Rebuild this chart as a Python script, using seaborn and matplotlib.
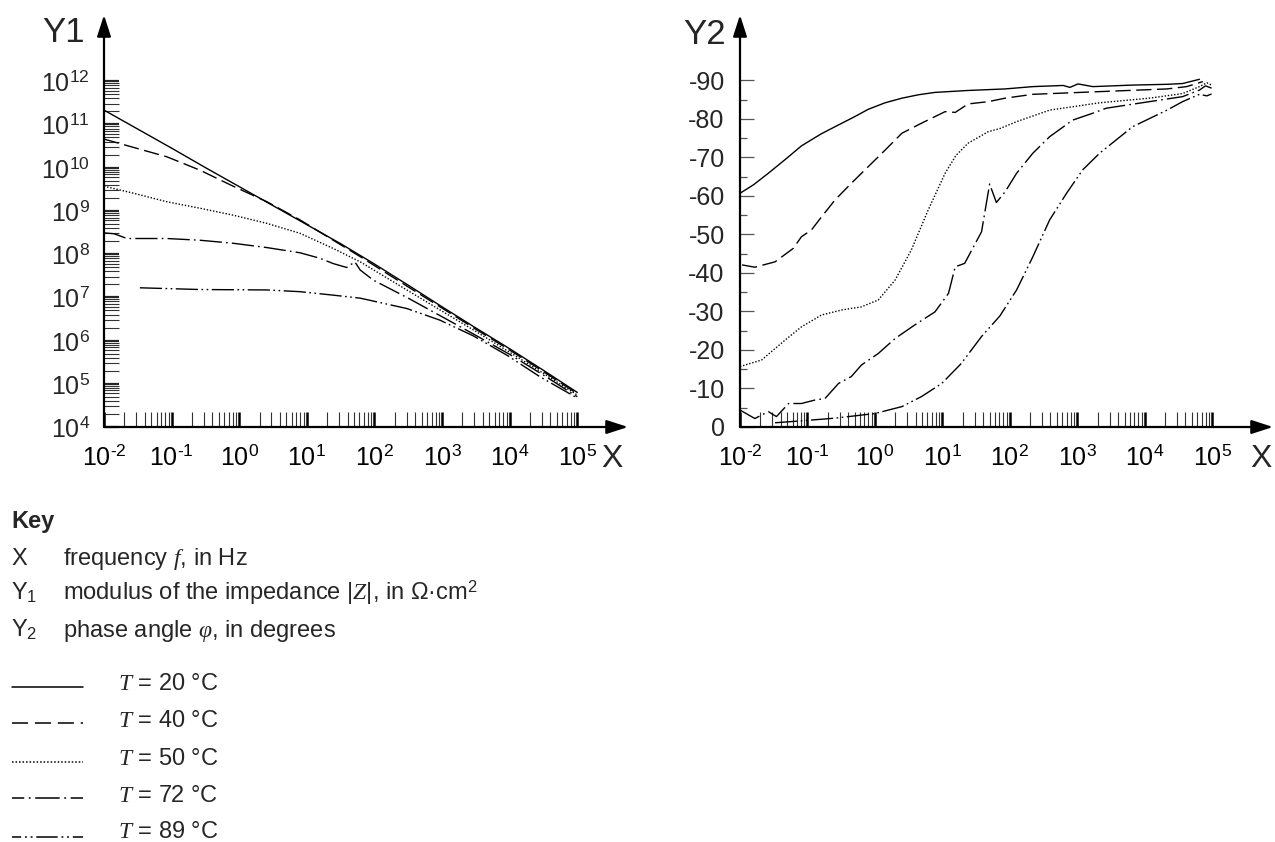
import numpy as np
import matplotlib.pyplot as plt
import seaborn as sns
from matplotlib.lines import Line2D
from matplotlib.ticker import FixedLocator, NullFormatter, FuncFormatter

sns.set_style('ticks')
plt.rcParams['font.family'] = ['Liberation Sans', 'DejaVu Sans']
plt.rcParams['mathtext.fontset'] = 'custom'
plt.rcParams['mathtext.rm'] = 'Liberation Sans'
plt.rcParams['mathtext.it'] = 'Liberation Serif:italic'
plt.rcParams['axes.unicode_minus'] = False

# values, stored as log10(f) and log10(|Z|) / phase in degrees
mod20_lf = [-2, -1.5, -1, -0.5, 0, 0.5, 1, 1.5, 2, 2.5, 3, 3.5, 4, 4.5, 5]
mod20_lz = [11.33, 10.89, 10.45, 10.0, 9.56, 9.12, 8.68, 8.24, 7.77, 7.28, 6.78, 6.29, 5.81, 5.31, 4.80]
mod40_lf = [-2, -1.57, -1.07, -0.58, -0.09, 0.41, 0.90, 1.39, 1.79, 2.5, 3, 3.5, 4, 4.5, 5]
mod40_lz = [10.66, 10.47, 10.25, 9.94, 9.57, 9.21, 8.79, 8.32, 7.94, 7.24, 6.75, 6.26, 5.78, 5.28, 4.77]
mod50_lf = [-2, -1.57, -1.07, -0.58, -0.09, 0.41, 0.90, 1.39, 1.79, 2.5, 3, 3.5, 4, 4.5, 5]
mod50_lz = [9.57, 9.41, 9.21, 9.06, 8.90, 8.71, 8.48, 8.13, 7.82, 7.15, 6.68, 6.21, 5.73, 5.24, 4.74]
mod72_lf = [-2, -1.85, -1.66, -1.07, -0.58, -0.09, 0.41, 0.90, 1.20, 1.39, 1.59, 1.71, 1.79,
            1.89, 1.98, 2.5, 3, 3.5, 4, 4.5, 5]
mod72_lz = [8.49, 8.47, 8.36, 8.36, 8.32, 8.25, 8.15, 8.03, 7.90, 7.78, 7.69, 7.82, 7.63,
            7.51, 7.40, 6.98, 6.55, 6.12, 5.68, 5.20, 4.70]
mod89_lf = [-1.47, -0.58, 0.41, 0.90, 1.39, 1.79, 2.48, 2.97, 3.46, 3.96, 4.45, 5]
mod89_lz = [7.22, 7.18, 7.17, 7.13, 7.05, 6.98, 6.74, 6.47, 6.11, 5.66, 5.16, 4.67]

ph20_lf = [-2, -1.8, -1.58, -1.3, -1.09, -0.8, -0.59, -0.3, -0.10, 0.15, 0.40, 0.65, 0.89, 1.38,
           1.93, 2.34, 2.79, 2.89, 3.01, 3.23, 3.82, 4.33, 4.56, 4.81]
ph20 = [-60.7, -62.9, -65.9, -69.9, -73.0, -76.1, -78.0, -80.6, -82.5, -84.2, -85.4, -86.3, -86.9, -87.4,
        -87.8, -88.4, -88.7, -88.2, -89.1, -88.4, -88.8, -89.0, -89.2, -90.3]
ph40_lf = [-1.97, -1.78, -1.48, -1.21, -1.09, -0.94, -0.79, -0.59, -0.35, -0.10, 0.15, 0.40,
           0.69, 1.04, 1.19, 1.38, 1.68, 1.93, 2.34, 3.33, 4.33, 4.62, 4.86]
ph40 = [-42.1, -41.5, -42.9, -46.4, -49.4, -51.2, -54.6, -59.0, -63.3, -67.6, -71.9, -76.3,
        -78.9, -81.9, -81.7, -83.9, -84.5, -85.4, -86.4, -87.1, -87.8, -88.4, -89.7]
ph50_lf = [-2, -1.68, -1.33, -1.09, -0.79, -0.49, -0.20, 0.05, 0.30, 0.54, 0.79, 1.04, 1.2, 1.38,
           1.68, 1.85, 2.10, 2.59, 3.33, 4.07, 4.56, 4.81, 4.92, 4.99]
ph50 = [-15.7, -17.4, -22.6, -26.0, -29.1, -30.4, -31.2, -33.0, -38.2, -46.0, -56.4, -65.9, -70.5, -73.7,
        -76.7, -77.5, -79.3, -82.3, -84.2, -85.4, -86.6, -88.4, -89.4, -88.8]
ph72_lf = [-2, -1.78, -1.58, -1.46, -1.28, -1.09, -0.89, -0.74, -0.54, -0.35, -0.20, 0.05, 0.30,
           0.59, 0.89, 1.09, 1.19, 1.33, 1.58, 1.70, 1.80, 1.93, 2.10, 2.34, 2.59, 2.93, 3.23,
           3.43, 4.07, 4.56, 4.81, 4.90, 4.99]
ph72 = [-4.4, -2.2, -4.0, -2.7, -6.1, -6.1, -7.0, -7.4, -11.3, -13.1, -16.1, -19.1, -23.0,
        -26.5, -29.9, -34.7, -41.6, -42.5, -50.7, -63.1, -58.3, -61.1, -65.9, -71.1, -75.4, -79.7, -81.5,
        -82.8, -84.5, -85.8, -87.5, -88.6, -88.0]
ph89_lf = [-1.48, -1.09, -0.59, 0.0, 0.40, 0.69, 0.99, 1.28, 1.58, 1.85, 2.10, 2.34, 2.59, 2.84,
           3.08, 3.33, 3.82, 4.33, 4.56, 4.81, 4.92, 4.99]
ph89 = [-1.1, -1.6, -2.3, -3.5, -5.3, -7.9, -11.3, -16.5, -23.5, -28.8, -35.6, -44.2, -53.8, -60.7,
        -66.8, -71.1, -78.0, -82.3, -84.5, -86.4, -86.0, -86.5]

temps = ['20', '40', '50', '72', '89']
styles = ['-', (0, (11, 4)), (0, (1, 1.3)), (0, (16, 3, 1.2, 3)), (0, (16, 2.5, 1.2, 2.5, 1.2, 2.5))]
key_styles = ['-', (0, (10.5, 4.5)), (0, (1, 1.3)), (8, (16, 3, 1.2, 3)), (8, (14, 2.5, 1.2, 2.5, 1.2, 2.5))]

mod_series = [(mod20_lf, mod20_lz), (mod40_lf, mod40_lz), (mod50_lf, mod50_lz),
              (mod72_lf, mod72_lz), (mod89_lf, mod89_lz)]
ph_series = [(ph20_lf, ph20), (ph40_lf, ph40), (ph50_lf, ph50), (ph72_lf, ph72), (ph89_lf, ph89)]

W, H = 1275, 842
fig = plt.figure(figsize=(W / 100, H / 100), dpi=100)
ax1 = fig.add_axes([104 / W, 415 / H, 524 / W, 412 / H])
ax2 = fig.add_axes([740 / W, 415 / H, 533 / W, 412 / H])

for ax in (ax1, ax2):
    ax.set_xscale('log')
ax1.set_yscale('log')

for (lf, lz), ls in zip(mod_series, styles):
    sns.lineplot(x=10 ** np.array(lf), y=10 ** np.array(lz), ax=ax1, color='k',
                 lw=1.0, linestyle=ls, sort=False, estimator=None)
for (lf, ph), ls in zip(ph_series, styles):
    sns.lineplot(x=10 ** np.array(lf), y=np.array(ph), ax=ax2, color='k',
                 lw=1.0, linestyle=ls, sort=False, estimator=None)

ax1.set_xlim(1e-2, 10 ** 5.75)
ax1.set_ylim(1e4, 10 ** 13.53)
ax2.set_xlim(1e-2, 10 ** 5.9)
ax2.set_ylim(0, -107)


def pow10(v, pos):
    e = int(round(np.log10(v)))
    return '$10^{%s}$' % str(e).replace('-', '\u2010')


xmaj = [10.0 ** e for e in range(-2, 6)]
xmin = [m * 10.0 ** e for e in range(-2, 5) for m in range(2, 10)]
for ax in (ax1, ax2):
    ax.xaxis.set_major_locator(FixedLocator(xmaj))
    ax.xaxis.set_major_formatter(FuncFormatter(pow10))
    ax.xaxis.set_minor_locator(FixedLocator(xmin))
    ax.xaxis.set_minor_formatter(NullFormatter())
    for s in ax.spines.values():
        s.set_visible(False)
    ax.set_xlabel('')
    ax.set_ylabel('')
    ax.tick_params(axis='x', which='major', direction='in', length=10.5, width=1.8,
                   pad=13, labelsize=18, colors='k', bottom=True)
    ax.tick_params(axis='x', which='minor', direction='in', length=10.5, width=0.8,
                   color='#333333', bottom=True)
    ax.annotate('', xy=(1, 0), xytext=(0, 0), xycoords='axes fraction',
                arrowprops=dict(arrowstyle='-|>,head_length=1.3,head_width=0.42', lw=1.6,
                                color='k', shrinkA=0, shrinkB=0, mutation_scale=10))
    ax.annotate('', xy=(0, 1), xytext=(0, 0), xycoords='axes fraction',
                arrowprops=dict(arrowstyle='-|>,head_length=1.3,head_width=0.42', lw=1.6,
                                color='k', shrinkA=0, shrinkB=0, mutation_scale=10))

ax1.yaxis.set_major_locator(FixedLocator([10.0 ** e for e in range(4, 13)]))
ax1.yaxis.set_major_formatter(FuncFormatter(pow10))
ax1.yaxis.set_minor_locator(FixedLocator([m * 10.0 ** e for e in range(4, 12) for m in range(2, 10)]))
ax1.yaxis.set_minor_formatter(NullFormatter())
ax1.tick_params(axis='y', which='major', direction='in', length=10.5, width=1.6, pad=10,
                labelsize=18, left=True)
ax1.tick_params(axis='y', which='minor', direction='in', length=10.5, width=0.8,
                color='#333333', left=True)

ax2.yaxis.set_major_locator(FixedLocator(list(range(0, -100, -10))))
ax2.yaxis.set_minor_locator(FixedLocator(list(range(-5, -95, -10))))
ax2.tick_params(axis='y', which='major', direction='in', length=10, width=0.9, pad=11,
                labelsize=18, color='#555555', left=True)
ax2.tick_params(axis='y', which='minor', direction='in', length=5, width=0.9,
                color='#555555', left=True)

# axis titles
fig.text(85 / W, 1 - 33 / H, 'Y1', fontsize=25, ha='right', va='center')
fig.text(726 / W, 1 - 35 / H, 'Y2', fontsize=25, ha='right', va='center')
fig.text(612 / W, 1 - 459 / H, 'X', fontsize=23, ha='center', va='center')
fig.text(1261 / W, 1 - 459 / H, 'X', fontsize=23, ha='center', va='center')

# key
fs = 17
fig.text(11 / W, 1 - 528 / H, 'Key', fontsize=fs, fontweight='bold', va='baseline')
key_rows = [('X', 'frequency $f$, in Hz', 565),
            ('Y$_1$', 'modulus of the impedance $|Z|$, in \u03a9\u00b7cm$^2$', 600),
            ('Y$_2$', 'phase angle $\\varphi$, in degrees', 637)]
for sym, desc, yb in key_rows:
    fig.text(11 / W, 1 - yb / H, sym, fontsize=fs, va='baseline')
    fig.text(63 / W, 1 - yb / H, desc, fontsize=fs, va='baseline')

line_y = [687, 723, 762, 798, 837]
text_y = [690, 727, 765, 802, 838]
for t, ls, ly, ty in zip(temps, key_styles, line_y, text_y):
    fig.add_artist(Line2D([12 / W, 83 / W], [1 - ly / H, 1 - ly / H], transform=fig.transFigure,
                          color='k', lw=1.1, linestyle=ls))
    fig.text(118 / W, 1 - ty / H, '$T$ = ' + t + ' \u00b0C', fontsize=fs, va='baseline')

fig.savefig('out.png', dpi=100)
